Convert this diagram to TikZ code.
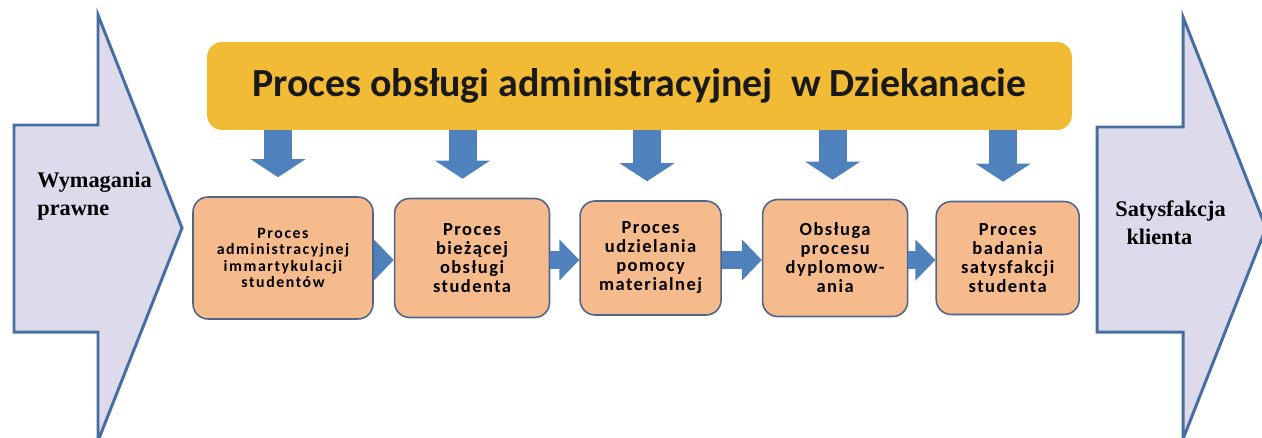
\documentclass[tikz,border=0pt]{standalone}
\usepackage{fontspec}
\setmainfont{Liberation Serif}
\newfontfamily\calibri{Carlito}
\usetikzlibrary{positioning,arrows.meta}
\definecolor{lavender}{RGB}{221,219,235}
\definecolor{frameblue}{RGB}{70,110,160}
\definecolor{deanyellow}{RGB}{242,187,53}
\definecolor{peach}{RGB}{245,187,140}
\definecolor{procframe}{RGB}{80,100,140}
\definecolor{flowblue}{RGB}{79,129,189}
\tikzset{
  title node/.style={rectangle, rounded corners=0.3cm, fill=deanyellow, minimum width=17.3cm, minimum height=1.76cm, inner sep=0pt, text=black!90, font=\calibri\bfseries\fontsize{22.7}{27}\selectfont},
  proc node/.style={rectangle, rounded corners=0.3cm, fill=peach, draw=procframe, line width=0.9pt, inner sep=0pt, align=center, font=\calibri\bfseries\fontsize{10.5}{10.8}\selectfont\addfontfeatures{LetterSpace=8}},
  big arrow/.style={fill=lavender, draw=frameblue, line width=1.7pt, line join=miter},
  side label/.style={align=left, inner sep=0pt, font=\bfseries\fontsize{12.7}{16}\selectfont},
  down arrow/.style={draw=flowblue, line width=0.56cm, shorten >=0.38cm, -{Triangle[length=0.36cm, width=1.08cm]}},
  flow arrow/.style={draw=flowblue, line width=0.36cm, -{Triangle[length=0.4cm, width=0.8cm]}}
}

\begin{document}
\begin{tikzpicture}[x=0.02cm, y=-0.02cm]
    \useasboundingbox (0,0) rectangle (1262,437);
    \clip (0,0) rectangle (1262,437);
    % Big arrows on both sides
    \draw[big arrow] (14,125) -- (98,125) -- (98,15) -- (182,228) -- (98,441) -- (98,332) -- (14,332) -- cycle;
    \draw[big arrow] (1097,127) -- (1183,127) -- (1183,17) -- (1266,228) -- (1183,439) -- (1183,332) -- (1097,332) -- cycle;
    \node[side label, anchor=west] (req) at (37,196) {Wymagania\\prawne};
    \node[side label, anchor=west] (sat) at (1115,223) {Satysfakcja\\\hspace*{0.5em}klienta};

    % Define each node
    % The title box on top, the process boxes in one row below it
    \node[title node] (dean) at (639.5,86) {Proces obsługi administracyjnej~ w Dziekanacie};
    \node[proc node, minimum width=3.6cm, minimum height=2.44cm, font=\calibri\bfseries\fontsize{9}{9.4}\selectfont\addfontfeatures{LetterSpace=10}] (P1) at (283,258) {Proces\\administracyjnej\\immartykulacji\\studentów};
    \node[proc node, minimum width=3.1cm, minimum height=2.38cm] (P2) [right = 0.4cm of P1] {Proces\\bieżącej\\obsługi\\studenta};
    \node[proc node, minimum width=2.82cm, minimum height=2.28cm] (P3) [right = 0.58cm of P2] {Proces\\udzielania\\pomocy\\materialnej};
    \node[proc node, minimum width=2.9cm, minimum height=2.34cm] (P4) [right = 0.8cm of P3] {Obsługa\\procesu\\dyplomow-\\ania};
    \node[proc node, minimum width=2.86cm, minimum height=2.26cm] (P5) [right = 0.54cm of P4] {Proces\\badania\\satysfakcji\\studenta};
    \coordinate (row) at (0,260);

    % Arrows from the title box down to each process
    \draw[down arrow] ([xshift=-0.1cm]dean.south -| P1.north) -- ([xshift=-0.1cm]P1.north);
    \draw[down arrow] ([xshift=-0.19cm]dean.south -| P2.north) -- ([xshift=-0.19cm]P2.north);
    \draw[down arrow] ([xshift=-0.07cm]dean.south -| P3.north) -- ([xshift=-0.07cm]P3.north);
    \draw[down arrow] ([xshift=-0.05cm]dean.south -| P4.north) -- ([xshift=-0.05cm]P4.north);
    \draw[down arrow] ([xshift=-0.09cm]dean.south -| P5.north) -- ([xshift=-0.09cm]P5.north);

    % Arrows between the processes
    \draw[flow arrow] (P1.east |- row) -- (P2.west |- row);
    \draw[flow arrow] (P2.east |- row) -- (P3.west |- row);
    \draw[flow arrow] (P3.east |- row) -- (P4.west |- row);
    \draw[flow arrow] (P4.east |- row) -- (P5.west |- row);
\end{tikzpicture}
\end{document}
